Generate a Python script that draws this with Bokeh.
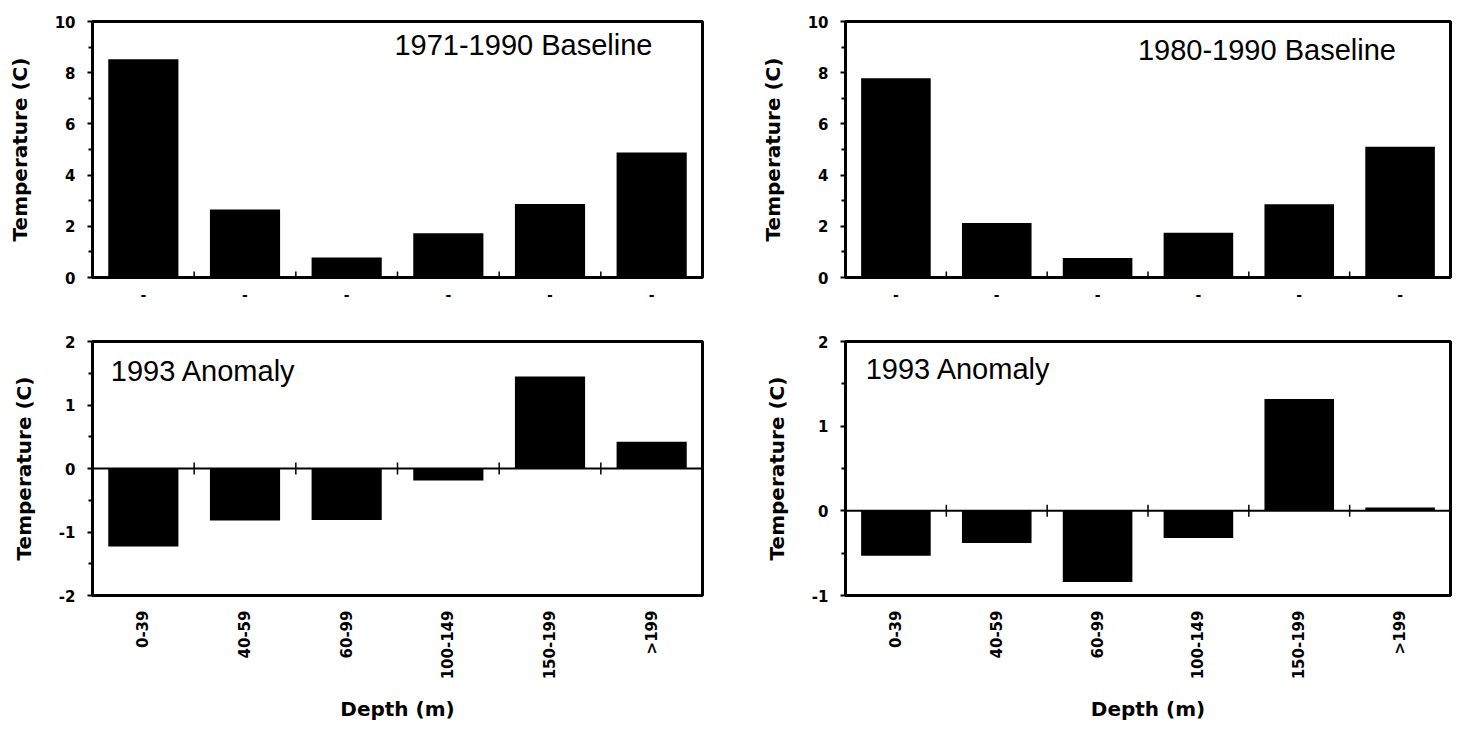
import math
from bokeh.plotting import figure
from bokeh.layouts import column, row
from bokeh.models import Range1d, FixedTicker, Span, Label
from bokeh.embed import file_html
from bokeh.resources import INLINE

# ---------------- data ----------------
categories = ["0-39", "40-59", "60-99", "100-149", "150-199", ">199"]
baseline_1971_1990 = [8.53, 2.66, 0.78, 1.73, 2.87, 4.88]
baseline_1980_1990 = [7.78, 2.13, 0.76, 1.75, 2.86, 5.11]
anomaly_1993_vs_1971 = [-1.23, -0.82, -0.81, -0.19, 1.45, 0.42]
anomaly_1993_vs_1980 = [-0.53, -0.38, -0.84, -0.32, 1.32, 0.04]

top_ticks = [0, 2, 4, 6, 8, 10]
top_minor = [1, 3, 5, 7, 9]
bl_ticks = [-2, -1, 0, 1, 2]
bl_minor = [-1.5, -0.5, 0.5, 1.5]
br_ticks = [-1, 0, 1, 2]
br_minor = [-0.5, 0.5, 1.5]

titles = ["1971-1990 Baseline", "1980-1990 Baseline", "1993 Anomaly", "1993 Anomaly"]
y_title = "Temperature (C)"
x_title = "Depth (m)"

BOLD_FONT = "DejaVu Sans"
NOTE_FONT = "Liberation Sans"
xs = [i + 1 for i in range(len(categories))]
bounds = [i + 1.5 for i in range(len(categories) - 1)]


def make(values, yr, ticks, minor, top, width, height, bl, br, bt, bb, note, nx, ny):
    p = figure(width=width, height=height, output_backend="svg", toolbar_location=None,
               x_range=Range1d(0.5, len(categories) + 0.5), y_range=Range1d(*yr),
               min_border_left=bl, min_border_right=br, min_border_top=bt, min_border_bottom=bb)
    p.grid.visible = False
    p.outline_line_color = "black"
    p.outline_line_width = 3
    p.background_fill_color = "white"
    p.border_fill_color = "white"

    p.vbar(x=xs, top=values, bottom=0, width=0.69, fill_color="black", line_color=None)

    # y axis
    ya = p.yaxis[0]
    ya.ticker = FixedTicker(ticks=ticks, minor_ticks=minor)
    ya.major_label_overrides = {t: str(t) for t in ticks}
    ya.axis_line_width = 3
    ya.major_tick_in = 0
    ya.major_tick_out = 5
    ya.major_tick_line_width = 2
    ya.minor_tick_in = 0
    ya.minor_tick_out = 4
    ya.minor_tick_line_width = 2
    ya.major_label_text_font = BOLD_FONT
    ya.major_label_text_font_style = "bold"
    ya.major_label_text_font_size = "15px"
    ya.major_label_text_color = "black"
    ya.major_label_standoff = 12
    ya.axis_label = y_title
    ya.axis_label_text_font = BOLD_FONT
    ya.axis_label_text_font_style = "bold"
    ya.axis_label_text_font_size = "20px"
    ya.axis_label_text_color = "black"
    ya.axis_label_standoff = 20

    # x axis
    xa = p.xaxis[0]
    xa.ticker = FixedTicker(ticks=xs, minor_ticks=[])
    xa.axis_line_width = 3
    xa.major_tick_line_color = None
    xa.major_tick_out = 0
    xa.major_tick_in = 0
    xa.minor_tick_line_color = None
    xa.major_label_text_font = BOLD_FONT
    xa.major_label_text_font_style = "bold"
    xa.major_label_text_color = "black"
    if top:
        xa.major_label_overrides = {x: "-" for x in xs}
        xa.major_label_text_font_size = "14px"
        xa.major_label_standoff = 12
    else:
        xa.major_label_overrides = {x: c for x, c in zip(xs, categories)}
        xa.major_label_orientation = math.pi / 2
        xa.major_label_text_font_size = "15px"
        xa.major_label_standoff = 15
        xa.axis_label = x_title
        xa.axis_label_text_font = BOLD_FONT
        xa.axis_label_text_font_style = "bold"
        xa.axis_label_text_font_size = "20px"
        xa.axis_label_text_color = "black"
        xa.axis_label_standoff = 15
        p.add_layout(Span(location=0, dimension="width", line_color="black", line_width=2))

    # category-boundary ticks crossing the zero line
    p.scatter(x=bounds, y=[0] * len(bounds), marker="dash", angle=math.pi / 2, size=12,
              line_color="black", line_width=1.5)

    p.add_layout(Label(x=nx, y=ny, text=note, text_font=NOTE_FONT, text_font_size="29px",
                       text_baseline="middle", text_align="left", text_color="black"))
    return p


p1 = make(baseline_1971_1990, (0, 10), top_ticks, top_minor, True, 731, 320, 92, 29, 21, 41,
          titles[0], 3.47, 9.1)
p2 = make(baseline_1980_1990, (0, 10), top_ticks, top_minor, True, 732, 320, 114, 13, 18, 43,
          titles[1], 3.4, 8.9)
p3 = make(anomaly_1993_vs_1971, (-2, 2), bl_ticks, bl_minor, False, 731, 410, 92, 29, 21, 131,
          titles[2], 0.68, 1.53)
p4 = make(anomaly_1993_vs_1980, (-1, 2), br_ticks, br_minor, False, 732, 410, 114, 13, 18, 135,
          titles[3], 0.7, 1.67)

layout = column(row(p1, p2), row(p3, p4))
open("out.html", "w").write(file_html(layout, INLINE))
